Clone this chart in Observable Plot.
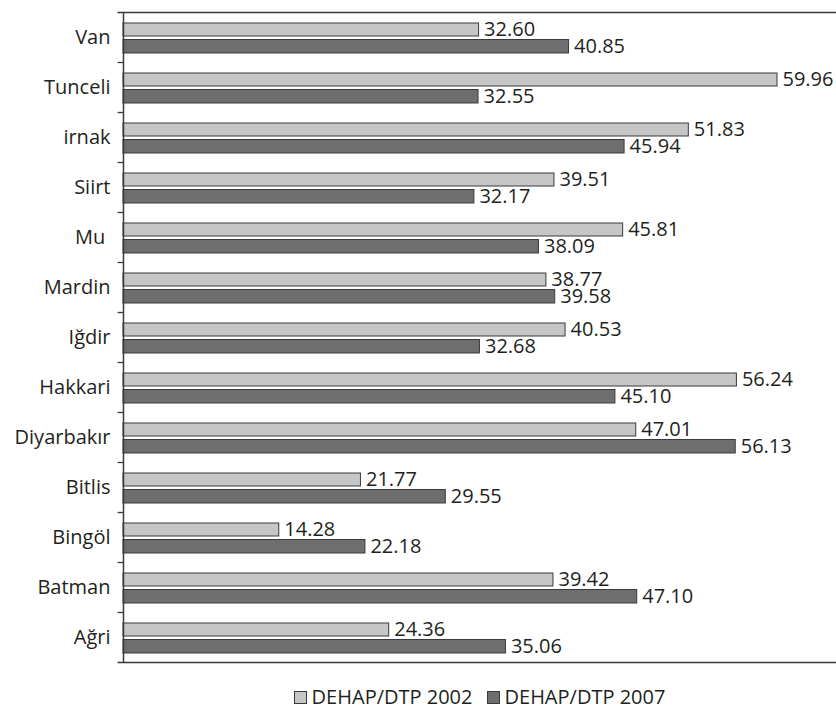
<!DOCTYPE html>
<html>
<head>
<meta charset="utf-8">
<script src="https://cdn.jsdelivr.net/npm/d3@7"></script>
<script src="https://cdn.jsdelivr.net/npm/@observablehq/plot@0.6"></script>
<style>
  html, body { margin: 0; padding: 0; background: #fff; }
  body { width: 836px; font-family: "Open Sans", sans-serif; color: #231f20; }
  #legend { display: flex; justify-content: center; align-items: center; margin-left: 123px; margin-top: 13px; height: 24px; font-size: 20px; line-height: 24px; }
  .item { display: flex; align-items: center; margin: 0 7px; }
  .sw { width: 13px; height: 13px; border: 1px solid #3a3a3a; margin-right: 5px; box-sizing: border-box; }
</style>
</head>
<body>
<div id="chart"></div>
<div id="legend"></div>
<script>
const provinces = ["Van", "Tunceli", "irnak", "Siirt", "Mu\u00a0", "Mardin", "Iğdir", "Hakkari", "Diyarbakır", "Bitlis", "Bingöl", "Batman", "Ağri"];
const dehap2002 = [32.60, 59.96, 51.83, 39.51, 45.81, 38.77, 40.53, 56.24, 47.01, 21.77, 14.28, 39.42, 24.36];
const dehap2007 = [40.85, 32.55, 45.94, 32.17, 38.09, 39.58, 32.68, 45.10, 56.13, 29.55, 22.18, 47.10, 35.06];
const seriesNames = ["DEHAP/DTP 2002", "DEHAP/DTP 2007"];
const seriesColors = ["#c6c6c6", "#6e6e6e"];

const table = provinces.map((p, i) => ({province: p, v2002: dehap2002[i], v2007: dehap2007[i]}));
const edgeColor = "#3a3a3a";

const chart = Plot.plot({
  width: 836,
  height: 672,
  marginLeft: 123,
  marginRight: 0,
  marginTop: 12,
  marginBottom: 10,
  style: {fontFamily: "'Open Sans', sans-serif", fontSize: "20px", color: "#231f20", background: "#fff"},
  x: {axis: null, domain: [0, 65.37]},
  y: {domain: provinces, padding: 0, label: null},
  marks: [
    Plot.axisY({tickSize: 0, tickPadding: 13, fontSize: 20, label: null, fill: "#231f20"}),
    Plot.barX(table, {x: "v2002", y: "province", fill: seriesColors[0], stroke: edgeColor, strokeWidth: 1, insetTop: 11, insetBottom: 26}),
    Plot.barX(table, {x: "v2007", y: "province", fill: seriesColors[1], stroke: edgeColor, strokeWidth: 1, insetTop: 27.5, insetBottom: 9}),
    Plot.text(table, {x: "v2002", y: "province", text: d => d.v2002.toFixed(2), textAnchor: "start", dx: 5, dy: -8, fontSize: 20, fill: "#231f20"}),
    Plot.text(table, {x: "v2007", y: "province", text: d => d.v2007.toFixed(2), textAnchor: "start", dx: 5, dy: 9.5, fontSize: 20, fill: "#231f20"}),
    // band boundary ticks on the left
    Plot.ruleY(provinces.slice(1), {y: d => d, dy: -25, x1: -0.5, x2: 0, stroke: edgeColor, strokeWidth: 1.3}),
    // top and bottom frame lines
    Plot.ruleY([provinces[0]], {y: d => d, dy: -25, x1: -0.5, x2: 65.37, stroke: edgeColor, strokeWidth: 1.3}),
    Plot.ruleY([provinces[provinces.length - 1]], {y: d => d, dy: 25, x1: -0.5, x2: 65.37, stroke: edgeColor, strokeWidth: 1.3}),
    Plot.ruleX([0], {stroke: edgeColor, strokeWidth: 1.5})
  ]
});
document.getElementById("chart").appendChild(chart);

const legend = document.getElementById("legend");
seriesNames.forEach((name, i) => {
  const item = document.createElement("div");
  item.className = "item";
  const sw = document.createElement("span");
  sw.className = "sw";
  sw.style.background = seriesColors[i];
  const label = document.createElement("span");
  label.textContent = name;
  item.appendChild(sw);
  item.appendChild(label);
  legend.appendChild(item);
});
</script>
</body>
</html>
